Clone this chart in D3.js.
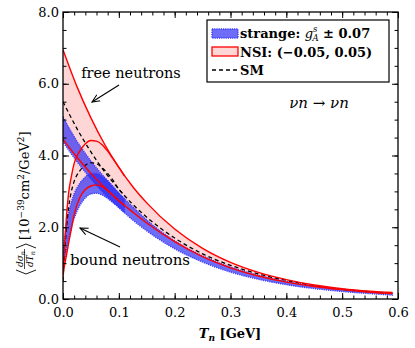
<!DOCTYPE html>
<html>
<head>
<meta charset="utf-8">
<script src="https://cdn.jsdelivr.net/npm/d3@7"></script>
</head>
<body style="margin:0;background:#fff">
<div id="chart"></div>
<script>
// kinetic energy grid for the free-neutron curves [GeV]
let freeT = [0, 0.025, 0.05, 0.075, 0.1, 0.125, 0.15, 0.2, 0.25, 0.3, 0.35, 0.4, 0.45, 0.5, 0.55, 0.59];
let freeNsiHigh = [6.95, 5.92, 5.05, 4.30, 3.67, 3.13, 2.68, 1.95, 1.41, 1.02, 0.74, 0.54, 0.39, 0.29, 0.22, 0.18];
let freeNsiLow  = [4.45, 3.95, 3.50, 3.10, 2.74, 2.42, 2.12, 1.60, 1.18, 0.87, 0.64, 0.47, 0.35, 0.26, 0.19, 0.15];
let freeSM      = [5.50, 4.75, 4.10, 3.54, 3.06, 2.64, 2.28, 1.70, 1.26, 0.94, 0.70, 0.52, 0.38, 0.27, 0.20, 0.16];
let freeStrHigh = [5.07, 4.40, 3.85, 3.38, 2.95, 2.57, 2.20, 1.62, 1.20, 0.89, 0.66, 0.49, 0.37, 0.27, 0.20, 0.16];
let freeStrLow  = [4.38, 3.83, 3.35, 2.92, 2.55, 2.20, 1.90, 1.40, 1.03, 0.75, 0.55, 0.40, 0.29, 0.21, 0.15, 0.11];

// grid for the bound-neutron curves (they join the free ones near 0.1 GeV)
let boundT = [0, 0.003, 0.006, 0.01, 0.015, 0.02, 0.03, 0.04, 0.05, 0.06, 0.07, 0.08, 0.09, 0.1, 0.11];
let boundNsiHigh = [0.62, 1.50, 2.25, 2.95, 3.42, 3.78, 4.12, 4.33, 4.42, 4.40, 4.30, 4.12, 3.90, 3.67, 3.43];
let boundNsiLow  = [0.70, 0.95, 1.20, 1.55, 1.95, 2.35, 2.82, 3.05, 3.15, 3.18, 3.13, 3.02, 2.88, 2.74, 2.61];
let boundSM      = [0.50, 1.30, 1.95, 2.55, 3.00, 3.28, 3.57, 3.73, 3.80, 3.77, 3.66, 3.50, 3.30, 3.06, 2.89];
let boundStrHigh = [1.30, 1.75, 2.05, 2.38, 2.70, 2.93, 3.22, 3.40, 3.50, 3.50, 3.42, 3.30, 3.13, 2.95, 2.80];
let boundStrLow  = [0.90, 1.10, 1.35, 1.65, 2.00, 2.25, 2.60, 2.82, 2.93, 2.95, 2.90, 2.80, 2.68, 2.55, 2.41];

let xTicks = [0, 0.1, 0.2, 0.3, 0.4, 0.5, 0.6];
let yTicks = [0, 2, 4, 6, 8];

let FONT = "DejaVu Serif";
let W = 415, H = 348;
let svg = d3.select("#chart").append("svg").attr("width", W).attr("height", H)
    .style("display", "block");

let x = d3.scaleLinear().domain([0, 0.6]).range([63, 398]);
let y = d3.scaleLinear().domain([0, 8]).range([299, 12]);

svg.append("clipPath").attr("id", "clip")
    .append("rect").attr("x", x(0)).attr("y", y(8)).attr("width", x(0.6) - x(0)).attr("height", y(0) - y(8));
let body = svg.append("g").attr("clip-path", "url(#clip)");

function band(t, lo, hi){
    return t.map(function(d, i){ return [d, lo[i], hi[i]]; });
}
function pts(t, v){
    return t.map(function(d, i){ return [d, v[i]]; });
}
let area = d3.area().curve(d3.curveMonotoneX)
    .x(function(d){ return x(d[0]); })
    .y0(function(d){ return y(d[1]); })
    .y1(function(d){ return y(d[2]); });
let line = d3.line().curve(d3.curveMonotoneX)
    .x(function(d){ return x(d[0]); })
    .y(function(d){ return y(d[1]); });

let pink = "#ffd6d6", blue = "rgba(40,40,245,0.68)";

// NSI bands
[band(freeT, freeNsiLow, freeNsiHigh), band(boundT, boundNsiLow, boundNsiHigh)].forEach(function(b){
    body.append("path").datum(b).attr("d", area).attr("fill", pink).attr("stroke", "none");
});
// strange-quark bands
[band(freeT, freeStrLow, freeStrHigh), band(boundT, boundStrLow, boundStrHigh)].forEach(function(b){
    body.append("path").datum(b).attr("d", area).attr("fill", blue)
        .attr("stroke", "#3a3aff").attr("stroke-width", 1.4).attr("stroke-dasharray", "1.2,1");
});
// SM dashed
[pts(freeT, freeSM), pts(boundT, boundSM)].forEach(function(p){
    body.append("path").datum(p).attr("d", line).attr("fill", "none")
        .attr("stroke", "#000").attr("stroke-width", 1.3).attr("stroke-dasharray", "4,3");
});
// NSI edges
[pts(freeT, freeNsiHigh), pts(freeT, freeNsiLow), pts(boundT, boundNsiHigh), pts(boundT, boundNsiLow)].forEach(function(p){
    body.append("path").datum(p).attr("d", line).attr("fill", "none")
        .attr("stroke", "#f00").attr("stroke-width", 1.4);
});

// axes, ticks inward on all four sides
let xMinor = d3.range(0, 0.6001, 0.02);
let yMinor = d3.range(0, 8.001, 0.5);
let fmt = d3.format(".1f");

function addAxis(axis, tx, ty){
    let g = svg.append("g").attr("transform", "translate(" + tx + "," + ty + ")").call(axis);
    g.select(".domain").remove();
    g.selectAll("line").attr("stroke", "#000");
    g.selectAll("text").attr("fill", "#000").style("font-size", "13px");
    return g;
}
addAxis(d3.axisBottom(x).tickValues(xMinor).tickSize(-3.5).tickFormat(""), 0, y(0));
addAxis(d3.axisBottom(x).tickValues(xTicks).tickSize(-6).tickPadding(9).tickFormat(fmt), 0, y(0));
addAxis(d3.axisTop(x).tickValues(xMinor).tickSize(-3.5).tickFormat(""), 0, y(8));
addAxis(d3.axisTop(x).tickValues(xTicks).tickSize(-6).tickFormat(""), 0, y(8));
addAxis(d3.axisLeft(y).tickValues(yMinor).tickSize(-3.5).tickFormat(""), x(0), 0);
addAxis(d3.axisLeft(y).tickValues(yTicks).tickSize(-6).tickPadding(4).tickFormat(fmt), x(0), 0);
addAxis(d3.axisRight(y).tickValues(yMinor).tickSize(-3.5).tickFormat(""), x(0.6), 0);
addAxis(d3.axisRight(y).tickValues(yTicks).tickSize(-6).tickFormat(""), x(0.6), 0);

svg.append("rect").attr("x", x(0)).attr("y", y(8))
    .attr("width", x(0.6) - x(0)).attr("height", y(0) - y(8))
    .attr("fill", "none").attr("stroke", "#000").attr("stroke-width", 1.3);

// annotations
svg.append("defs").append("marker").attr("id", "arr")
    .attr("viewBox", "0 0 10 10").attr("refX", 9).attr("refY", 5)
    .attr("markerWidth", 8).attr("markerHeight", 8).attr("orient", "auto")
    .append("path").attr("d", "M0,1 L9,5 L0,9").attr("fill", "none").attr("stroke", "#000").attr("stroke-width", 1.2);

svg.append("text").attr("x", 131).attr("y", 78).attr("text-anchor", "middle")
    .style("font-size", "14.5px").text("free neutrons");
svg.append("line").attr("x1", 119).attr("y1", 85).attr("x2", 92).attr("y2", 102)
    .attr("stroke", "#000").attr("stroke-width", 1.1).attr("marker-end", "url(#arr)");

svg.append("text").attr("x", 130).attr("y", 265).attr("text-anchor", "middle")
    .style("font-size", "15px").text("bound neutrons");
svg.append("line").attr("x1", 120).attr("y1", 247).attr("x2", 80).attr("y2", 228)
    .attr("stroke", "#000").attr("stroke-width", 1.1).attr("marker-end", "url(#arr)");

let proc = svg.append("text").attr("x", 319).attr("y", 108).attr("text-anchor", "middle")
    .style("font-size", "15px");
proc.append("tspan").style("font-style", "italic").text("νn");
proc.append("tspan").text(" → ");
proc.append("tspan").style("font-style", "italic").text("νn");

// legend
let lg = svg.append("g");
lg.append("rect").attr("x", 207).attr("y", 20).attr("width", 182).attr("height", 62)
    .attr("fill", "#fff").attr("stroke", "#000").attr("stroke-width", 1.2);
lg.append("rect").attr("x", 212).attr("y", 29).attr("width", 26).attr("height", 9)
    .attr("fill", blue).attr("stroke", "#3a3aff").attr("stroke-width", 1.4).attr("stroke-dasharray", "1.2,1");
lg.append("rect").attr("x", 212).attr("y", 47).attr("width", 26).attr("height", 9)
    .attr("fill", pink).attr("stroke", "#f00").attr("stroke-width", 1.3);
lg.append("line").attr("x1", 212).attr("x2", 238).attr("y1", 70).attr("y2", 70)
    .attr("stroke", "#000").attr("stroke-width", 1.3).attr("stroke-dasharray", "4,3");

let t1 = lg.append("text").attr("x", 240).attr("y", 38).style("font-size", "13px").style("font-weight", "bold");
t1.append("tspan").text("strange: ");
t1.append("tspan").style("font-style", "italic").style("font-weight", "normal").text("g");
t1.append("tspan").style("font-style", "italic").style("font-weight", "normal").style("font-size", "8.5px").attr("dy", -6).text("s");
t1.append("tspan").style("font-style", "italic").style("font-weight", "normal").style("font-size", "8.5px").attr("dx", -5).attr("dy", 9).text("A");
t1.append("tspan").attr("dy", -3).text(" ± 0.07");
lg.append("text").attr("x", 240).attr("y", 57).style("font-size", "13px").style("font-weight", "bold")
    .text("NSI: (−0.05, 0.05)");
lg.append("text").attr("x", 240).attr("y", 75).style("font-size", "13px").style("font-weight", "bold")
    .text("SM");

// x title
let xt = svg.append("text").attr("x", 230).attr("y", 338).attr("text-anchor", "middle")
    .style("font-size", "13px").style("font-weight", "bold");
xt.append("tspan").style("font-style", "italic").text("T");
xt.append("tspan").style("font-style", "italic").style("font-size", "9px").attr("dy", 3).text("n");
xt.append("tspan").attr("dy", -3).text(" [GeV]");

// y title (rotated)
let yt = svg.append("g").attr("transform", "translate(29,0) rotate(-90)");
yt.append("path").attr("d", "M-270,-13 L-274,-3 L-270,7").attr("fill", "none").attr("stroke", "#000").attr("stroke-width", 0.9);
let num = yt.append("text").attr("x", -259).attr("y", -6).attr("text-anchor", "middle").style("font-size", "9px");
num.append("tspan").style("font-style", "italic").text("dσ");
num.append("tspan").style("font-style", "italic").style("font-size", "6.5px").attr("dy", 2).text("n");
yt.append("line").attr("x1", -269).attr("x2", -249).attr("y1", -4.5).attr("y2", -4.5)
    .attr("stroke", "#000").attr("stroke-width", 0.7);
let den = yt.append("text").attr("x", -259).attr("y", 4).attr("text-anchor", "middle").style("font-size", "9px");
den.append("tspan").style("font-style", "italic").text("dT");
den.append("tspan").style("font-style", "italic").style("font-size", "6.5px").attr("dy", 2).text("n");
yt.append("path").attr("d", "M-248,-13 L-244,-3 L-248,7").attr("fill", "none").attr("stroke", "#000").attr("stroke-width", 0.9);
let yb = yt.append("text").attr("x", -240).attr("y", 0).style("font-size", "13px");
yb.append("tspan").text("[10");
yb.append("tspan").style("font-size", "9px").attr("dy", -5).text("−39");
yb.append("tspan").attr("dy", 5).text("cm");
yb.append("tspan").style("font-size", "9px").attr("dy", -5).text("2");
yb.append("tspan").attr("dy", 5).text("/GeV");
yb.append("tspan").style("font-size", "9px").attr("dy", -5).text("2");
yb.append("tspan").attr("dy", 5).text("]");

// serif face on every text node, set inline so nothing overrides it
svg.selectAll("text, tspan").style("font-family", "'" + FONT + "', serif");
</script>
</body>
</html>
